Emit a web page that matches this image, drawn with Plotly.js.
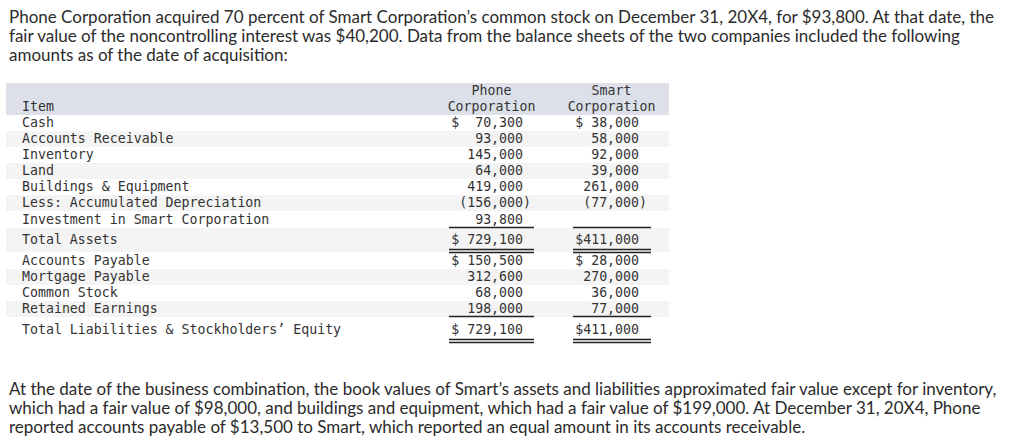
<!DOCTYPE html>
<html>
<head>
<meta charset="utf-8">
<script src="https://cdn.plot.ly/plotly-3.0.1.min.js"></script>
<style>
  html, body { margin: 0; padding: 0; background: #fff; }
  #tableArea { width: 1023px; height: 441px; }
</style>
</head>
<body>
<div id="tableArea"></div>
<script>
// balance sheet data at date of acquisition
const items = ["Cash", "Accounts Receivable", "Inventory", "Land", "Buildings & Equipment",
  "Less: Accumulated Depreciation", "Investment in Smart Corporation", "Total Assets",
  "Accounts Payable", "Mortgage Payable", "Common Stock", "Retained Earnings",
  "Total Liabilities & Stockholders\u2019 Equity"];
const phoneCorp = [70300, 93000, 145000, 64000, 419000, -156000, 93800, 729100,
  150500, 312600, 68000, 198000, 729100];
const smartCorp = [38000, 58000, 92000, 39000, 261000, -77000, null, 411000,
  28000, 270000, 36000, 77000, 411000];
const dollarRows = [0, 7, 8, 12];
const headPhone = ["Phone", "Corporation"];
const headSmart = ["Smart", "Corporation"];
const itemHead = "Item";

const introLines = [
  "Phone Corporation acquired 70 percent of Smart Corporation\u2019s common stock on December 31, 20X4, for $93,800. At that date, the",
  "fair value of the noncontrolling interest was $40,200. Data from the balance sheets of the two companies included the following",
  "amounts as of the date of acquisition:"
];
const outroLines = [
  "At the date of the business combination, the book values of Smart\u2019s assets and liabilities approximated fair value except for inventory,",
  "which had a fair value of $98,000, and buildings and equipment, which had a fair value of $199,000. At December 31, 20X4, Phone",
  "reported accounts payable of $13,500 to Smart, which reported an equal amount in its accounts receivable."
];

// layout bits (pixel coords)
const rowHeights = [16, 16, 16, 16, 16, 16, 17, 24, 17, 16, 16, 16, 26];
const tableTop = 115, headTop = 83, tblLeft = 6, tblRight = 669;
const xItem = 22, xPhone = 531, xSmart = 647;
const textShift = 1;
const NB = "\u00a0";
const mono = "DejaVu Sans Mono, monospace";
const ink = "#333333";

function fmt(v, width, dollar) {
  if (v === null) return "";
  let s = Math.abs(v).toLocaleString("en-US");
  s = v < 0 ? "(" + s + ")" : s + NB;
  if (dollar) s = "$" + s.padStart(width - 1, NB);
  return s;
}

let rowTop = [], rowMid = [];
let y = tableTop;
rowHeights.forEach(h => { rowTop.push(y); rowMid.push(y + h / 2 + textShift); y += h; });

let shapes = [];
// header band
shapes.push({type: "rect", layer: "below", x0: tblLeft, x1: tblRight, y0: headTop, y1: tableTop,
  fillcolor: "#dde0e9", line: {width: 0}});
// striped rows
rowHeights.forEach((h, i) => {
  if (i % 2 === 1) {
    shapes.push({type: "rect", layer: "below", x0: tblLeft, x1: tblRight, y0: rowTop[i], y1: rowTop[i] + h,
      fillcolor: "#f4f4f4", line: {width: 0}});
  }
});
// underlines under subtotal rows
const lineSpans = [[449, 534], [573, 651]];
function rule(yy) {
  lineSpans.forEach(sp => shapes.push({type: "line", x0: sp[0], x1: sp[1], y0: yy, y1: yy,
    line: {color: "#222", width: 1.3}}));
}
const totA = items.indexOf("Total Assets"), totL = items.length - 1;
rule(rowTop[totA] - 0.5);
rule(rowTop[totA + 1] - 2.5); rule(rowTop[totA + 1] + 0.5);
rule(rowTop[totL] - 0.5);
rule(rowTop[totL] + 22.5); rule(rowTop[totL] + 25.5);

const textFont = {family: mono, size: 13.25, color: ink};

let traceItems = {
  x: items.map(() => xItem), y: rowMid, text: items,
  mode: "text", type: "scatter", textposition: "middle right",
  textfont: textFont, hoverinfo: "skip"
};
let tracePhone = {
  x: phoneCorp.map(() => xPhone), y: rowMid,
  text: phoneCorp.map((v, i) => fmt(v, 10, dollarRows.includes(i))),
  mode: "text", type: "scatter", textposition: "middle left",
  textfont: textFont, hoverinfo: "skip"
};
let traceSmart = {
  x: smartCorp.map(() => xSmart), y: rowMid,
  text: smartCorp.map((v, i) => fmt(v, 9, dollarRows.includes(i))),
  mode: "text", type: "scatter", textposition: "middle left",
  textfont: textFont, hoverinfo: "skip"
};
let traceHead = {
  x: [491.5, 491.5, 611.5, 611.5], y: [91 + textShift, 107 + textShift, 91 + textShift, 107 + textShift],
  text: headPhone.concat(headSmart),
  mode: "text", type: "scatter", textposition: "middle center",
  textfont: textFont, hoverinfo: "skip"
};
let traceItemHead = {
  x: [xItem], y: [107 + textShift], text: [itemHead],
  mode: "text", type: "scatter", textposition: "middle right",
  textfont: textFont, hoverinfo: "skip"
};

let annotations = [];
const para = {family: "Lato, sans-serif", size: 17, color: "#2b2b2b"};
introLines.forEach((t, i) => annotations.push({x: 7, y: 16 + 19 * i, xref: "x", yref: "y",
  text: t, showarrow: false, xanchor: "left", yanchor: "middle", font: para}));
outroLines.forEach((t, i) => annotations.push({x: 7, y: 388 + 19 * i, xref: "x", yref: "y",
  text: t, showarrow: false, xanchor: "left", yanchor: "middle", font: para}));

let layout = {
  width: 1023, height: 441,
  margin: {l: 0, r: 0, t: 0, b: 0},
  paper_bgcolor: "#ffffff", plot_bgcolor: "#ffffff",
  showlegend: false,
  xaxis: {range: [0, 1023], visible: false, fixedrange: true},
  yaxis: {range: [441, 0], visible: false, fixedrange: true},
  shapes: shapes,
  annotations: annotations
};

Plotly.newPlot("tableArea", [traceItems, tracePhone, traceSmart, traceHead, traceItemHead], layout,
  {staticPlot: true});
</script>
</body>
</html>
